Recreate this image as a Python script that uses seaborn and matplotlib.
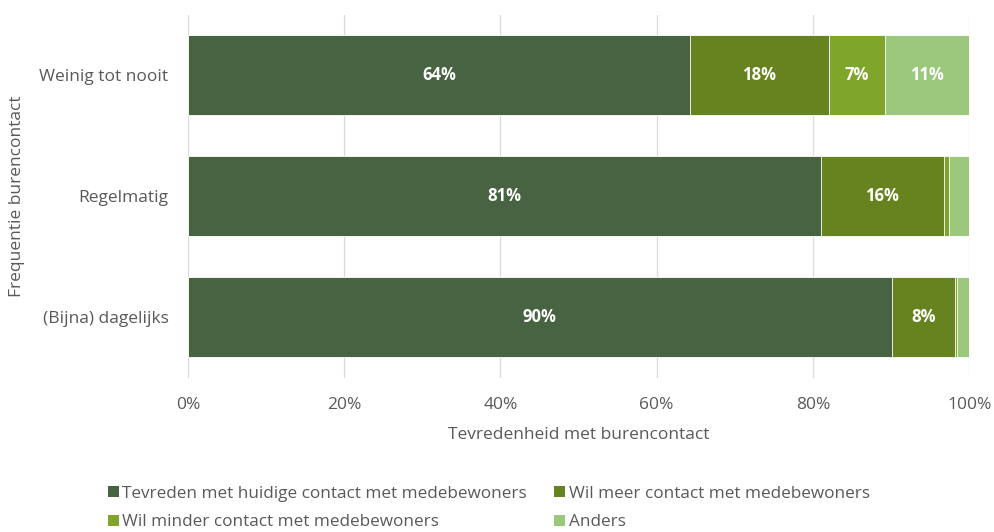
import numpy as np
import pandas as pd
import matplotlib.pyplot as plt
import seaborn as sns
from matplotlib.patches import Patch

# data (percentages)
categories = ['Weinig tot nooit', 'Regelmatig', '(Bijna) dagelijks']
series = [
    'Tevreden met huidige contact met medebewoners',
    'Wil meer contact met medebewoners',
    'Wil minder contact met medebewoners',
    'Anders',
]
tevreden = [64.3, 81.0, 90.1]
meer = [17.7, 15.8, 8.1]
minder = [7.2, 0.6, 0.3]
anders = [10.8, 2.6, 1.5]
xticks = [0, 20, 40, 60, 80, 100]

colors = ['#486341', '#67831f', '#7fa62a', '#9bc87d']
text_color = '#595959'

sns.set_theme(style='white')
plt.rcParams['font.family'] = ['Open Sans', 'DejaVu Sans']

values = np.array([tevreden, meer, minder, anders])
cum = values.cumsum(axis=0)

fig, ax = plt.subplots(figsize=(9.94, 5.32), dpi=100)
fig.subplots_adjust(left=0.189, right=0.975, top=0.972, bottom=0.29)

# stacked bars: draw cumulative totals from the outermost segment inwards
for i in range(len(series) - 1, -1, -1):
    df = pd.DataFrame({'cat': categories, 'val': cum[i]})
    sns.barplot(data=df, y='cat', x='val', orient='h', color=colors[i],
                width=0.66, ax=ax, edgecolor='white', linewidth=0.6,
                saturation=1)

# value labels
for i in range(len(series)):
    for j, cat in enumerate(categories):
        v = values[i, j]
        if v >= 5:
            mid = cum[i, j] - v / 2
            ax.text(mid, j, f'{round(v):.0f}%', ha='center', va='center',
                    color='white', fontsize=12, fontweight='bold')

ax.set_xlim(0, 100)
ax.set_ylim(2.5, -0.5)
ax.set_xticks(xticks)
ax.set_xticklabels([f'{t}%' for t in xticks])
ax.xaxis.grid(True, color='#d9d9d9', linewidth=0.9)
ax.set_axisbelow(True)
for s in ax.spines.values():
    s.set_visible(False)
ax.tick_params(axis='both', length=0, colors=text_color, labelsize=12.5)
ax.tick_params(axis='y', pad=14)
ax.tick_params(axis='x', pad=14)
ax.set_xlabel('Tevredenheid met burencontact', color=text_color, fontsize=12.5, labelpad=10)
ax.set_ylabel('Frequentie burencontact', color=text_color, fontsize=12.5, labelpad=10)

# legend filled row-wise like the original (matplotlib fills by column)
order = [0, 2, 1, 3]
handles = [Patch(facecolor=colors[k], edgecolor='none') for k in order]
labels = [series[k] for k in order]
fig.legend(handles, labels, loc='lower left', bbox_to_anchor=(0.093, -0.026),
           ncol=2, frameon=False, fontsize=12.3, labelcolor=text_color,
           handlelength=0.65, handleheight=0.65, handletextpad=0.2,
           columnspacing=1.6, labelspacing=0.75)

fig.savefig('out.png', dpi=100)
